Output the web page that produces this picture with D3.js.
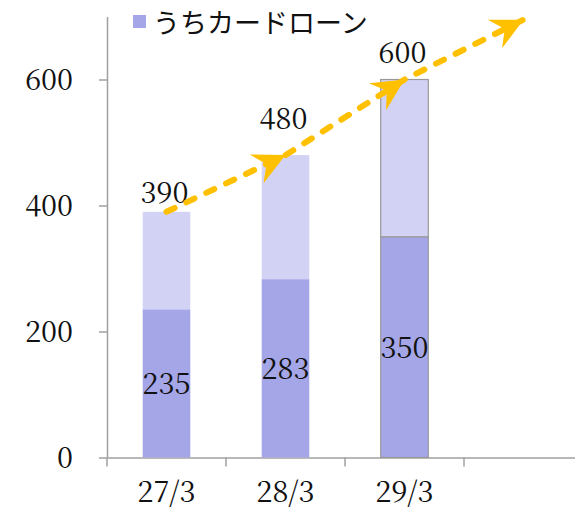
<!DOCTYPE html>
<html><head><meta charset="utf-8">
<script src="https://cdn.jsdelivr.net/npm/d3@7"></script>
<style>
html,body{margin:0;padding:0;background:#fff;}
.serif{font-family:"Noto Serif CJK JP","Liberation Serif",serif;}
.jp{font-family:"Noto Sans CJK JP","Noto Sans CJK SC",sans-serif;}
</style>
</head><body>
<svg id="chart" width="575" height="510"></svg>
<script>
// ---- data ----
const categories = ["27/3", "28/3", "29/3", ""];
const cardLoan = [235, 283, 350];          // うちカードローン (dark segment)
const totals = [390, 480, 600];            // total bar height
const trendValues = [390, 480, 600, 695];  // dashed trend arrow
const yTicks = [0, 200, 400, 600];
const legendLabel = "うちカードローン";

// ---- layout ----
const totalLabelGap = [9, 26, 17];
const fs = "29px";
const darkColor = "#a4a6e8", lightColor = "#d2d3f4", axisColor = "#a0a0a0", arrowColor = "#FFC000";

const svg = d3.select("#chart");
const x = d3.scaleBand().domain(categories).range([107, 107 + 119 * 4]).paddingInner(0).paddingOuter(0);
const y = d3.scaleLinear().domain([0, 700]).range([457.5, 16.5]);
const barW = x.bandwidth() * 0.4;

// y axis
const yAxis = svg.append("g").attr("transform", `translate(${x.range()[0]},0)`)
  .call(d3.axisLeft(y).tickValues(yTicks).tickSize(8).tickPadding(26).tickSizeOuter(0));
yAxis.attr("font-family", null).attr("font-size", null);
yAxis.select(".domain").attr("stroke", axisColor).attr("stroke-width", 1.5);
yAxis.selectAll(".tick line").attr("stroke", axisColor).attr("stroke-width", 1.5);
yAxis.selectAll(".tick text").attr("class", "serif").style("font-size", fs).attr("fill", "#111").attr("dy", "0.36em");

// x axis
const xAxis = svg.append("g").attr("transform", `translate(0,${y(0)})`)
  .call(d3.axisBottom(x).tickSize(0).tickPadding(44).tickSizeOuter(0));
xAxis.attr("font-family", null).attr("font-size", null);
xAxis.select(".domain").attr("stroke", axisColor).attr("stroke-width", 1.5);
xAxis.selectAll(".tick text").attr("class", "serif").style("font-size", fs).attr("fill", "#111").attr("dy", 0);
// boundary ticks between categories
const bounds = categories.map(c => x(c));
svg.append("g").selectAll("line").data(bounds).join("line")
  .attr("x1", d => d).attr("x2", d => d).attr("y1", y(0)).attr("y2", y(0) + 9)
  .attr("stroke", axisColor).attr("stroke-width", 1.5);

// bars
const bars = svg.append("g");
totals.forEach((t, i) => {
  const cx = x(categories[i]) + x.bandwidth() / 2;
  const last = i === totals.length - 1;
  bars.append("rect").attr("x", cx - barW / 2).attr("width", barW)
    .attr("y", y(t)).attr("height", y(cardLoan[i]) - y(t))
    .attr("fill", lightColor)
    .attr("stroke", last ? "#999" : "none").attr("stroke-width", 1.2);
  bars.append("rect").attr("x", cx - barW / 2).attr("width", barW)
    .attr("y", y(cardLoan[i])).attr("height", y(0) - y(cardLoan[i]))
    .attr("fill", darkColor)
    .attr("stroke", last ? "#999" : "none").attr("stroke-width", 1.2);
  // inner label
  bars.append("text").attr("class", "serif").attr("x", cx).attr("y", (y(cardLoan[i]) + y(0)) / 2)
    .attr("dy", "0.36em").attr("text-anchor", "middle")
    .style("font-size", fs).attr("fill", "#111").text(cardLoan[i]);
  // total label
  bars.append("text").attr("class", "serif").attr("x", cx - 2).attr("y", y(t) - totalLabelGap[i])
    .attr("text-anchor", "middle")
    .style("font-size", fs).attr("fill", "#111").text(t);
});

// trend arrow
const pts = trendValues.map((v, i) => [x(categories[i]) + x.bandwidth() / 2, y(v)]);
svg.append("path").attr("d", d3.line()(pts))
  .attr("fill", "none").attr("stroke", arrowColor).attr("stroke-width", 6)
  .attr("stroke-dasharray", "9,13").attr("stroke-linecap", "round");
for (let i = 1; i < pts.length; i++) {
  const [x0, y0] = pts[i - 1], [x1, y1] = pts[i];
  const ang = Math.atan2(y1 - y0, x1 - x0) * 180 / Math.PI;
  svg.append("path")
    .attr("d", "M0,0 L-32,-16 L-21,0 L-32,16 Z")
    .attr("transform", `translate(${x1},${y1}) rotate(${ang})`)
    .attr("fill", arrowColor);
}

// legend
svg.append("rect").attr("x", 133).attr("y", 15).attr("width", 13).attr("height", 13).attr("fill", darkColor);
svg.append("text").attr("class", "jp").attr("x", 153).attr("y", 33)
  .style("font-size", "27px").attr("fill", "#111")
  .text(legendLabel);
</script>
</body></html>
